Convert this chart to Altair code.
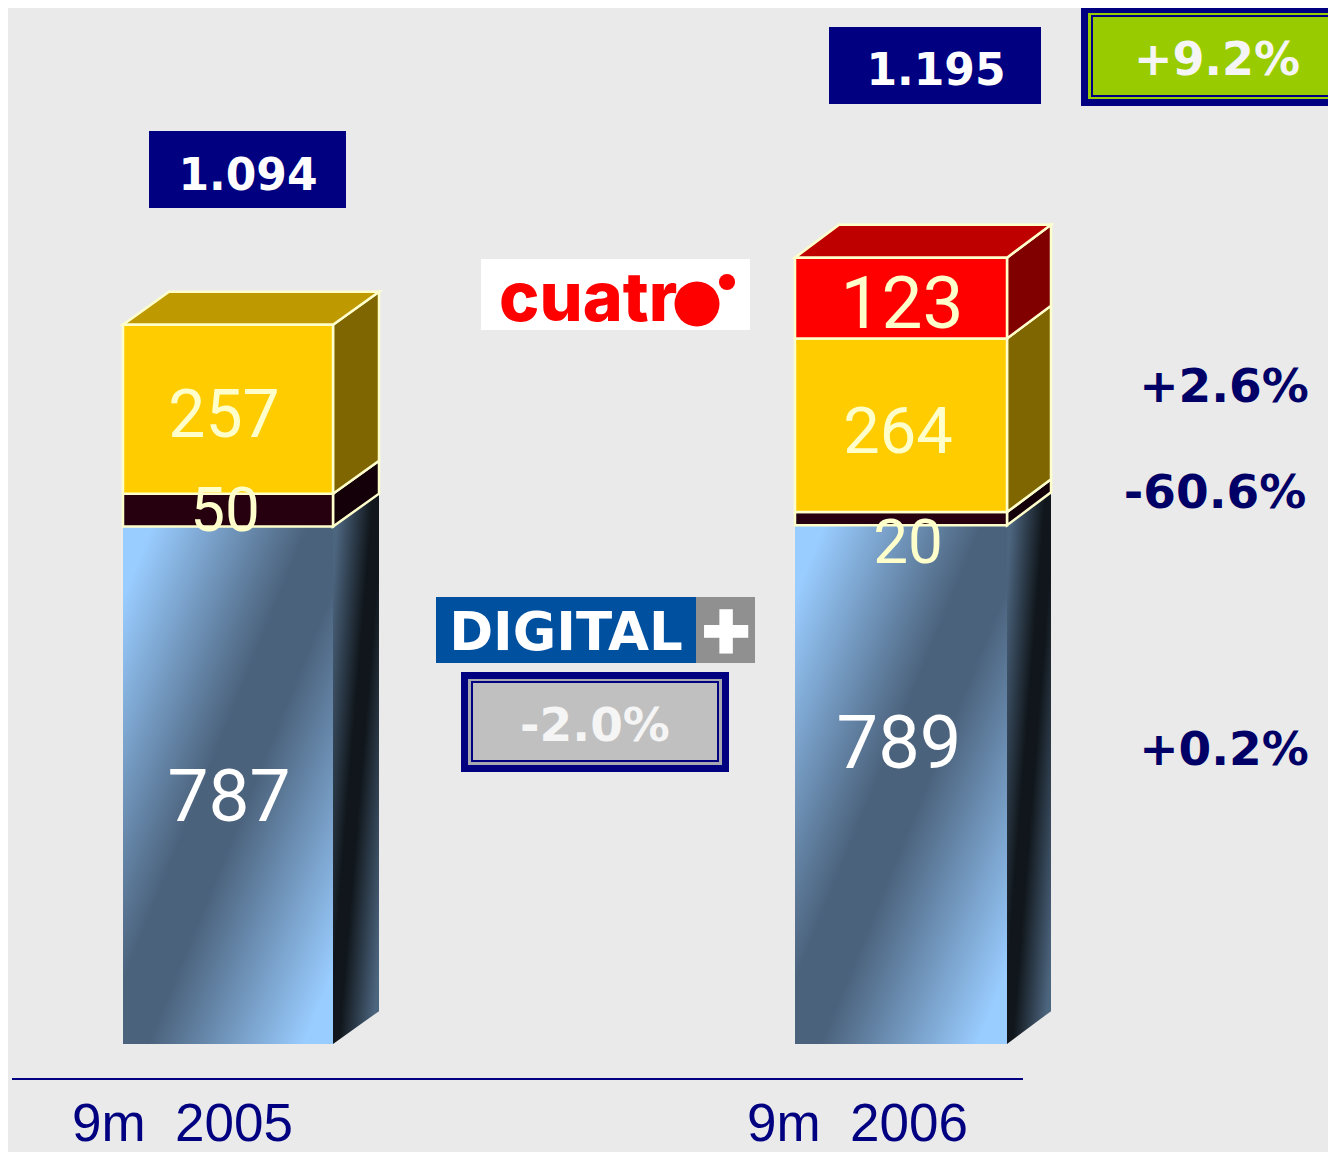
import altair as alt
import pandas as pd

# ---- values ----
periods = ["9m 2005", "9m 2006"]
digital = [787, 789]
other = [50, 20]
gold = [257, 264]
cuatro = [0, 123]
totals = ["1.094", "1.195"]
changes = ["+2.6%", "-60.6%", "+0.2%"]
total_change = "+9.2%"
digital_change = "-2.0%"

PX = 0.6575
BASE = 1044
W, H = 1320, 1144
def py(p):
    return (BASE - p) / PX

xs = alt.Scale(domain=[8, 8 + W], range=[0, W], nice=False, zero=False)
ys = alt.Scale(domain=[py(8 + H), py(8)], range=[H, 0], nice=False, zero=False)
X = lambda f="x": alt.X(f"{f}:Q", scale=xs, axis=None)
Y = lambda f="y": alt.Y(f"{f}:Q", scale=ys, axis=None)

OUT = "#FFFFCC"
NAVY = "#000080"
bars = [(123, 333, 46), (795, 1007, 44)]
DY = 50

def grad(a, b):
    return alt.Gradient(gradient="linear", x1=0, y1=0, x2=1, y2=1,
                        stops=[alt.GradientStop(offset=0.07, color=a),
                               alt.GradientStop(offset=0.44, color=b),
                               alt.GradientStop(offset=0.56, color=b),
                               alt.GradientStop(offset=0.93, color=a)])

fronts, polys = [], []
pal = [("other", "#26000F", "#130008", None),
       ("gold", "#FFCC00", "#806600", "#BF9900"),
       ("cuatro", "#FF0000", "#800000", "#BF0000")]
series = {"other": other, "gold": gold, "cuatro": cuatro}
for i, (x0, x1, dx) in enumerate(bars):
    y = digital[i]
    top = y
    for name, f, s, t in pal:
        v = series[name][i]
        if v == 0:
            continue
        fronts.append(dict(x=x0, x2=x1, y=y, y2=y + v, fill=f))
        pid = f"{i}{name}"
        polys += [dict(id=pid, x=x1, y=y + v, y2=y, fill=s),
                  dict(id=pid, x=x1 + dx, y=y + v + DY, y2=y + DY, fill=s)]
        y += v
        top = y
    tname = [p for p in pal if series[p[0]][i] > 0][-1]
    pid = f"{i}top"
    tf = tname[3]
    polys += [dict(id=pid, x=x0, y=top, y2=top, fill=tf),
              dict(id=pid, x=x0 + dx, y=top + DY, y2=top, fill=tf),
              dict(id=pid, x=x1, y=top + DY, y2=top, fill=tf),
              dict(id=pid, x=x1 + dx, y=top + DY, y2=top + DY, fill=tf)]

layers = []
# blue digital segments
for i, (x0, x1, dx) in enumerate(bars):
    side = pd.DataFrame([dict(x=x1, y=digital[i], y2=0),
                         dict(x=x1 + dx, y=digital[i] + DY, y2=DY)])
    layers.append(alt.Chart(side).mark_area(orient="vertical", color=grad("#4D6680", "#10161B")).encode(
        x=X(), y=Y(), y2="y2:Q"))
    front = pd.DataFrame([dict(x=x0, x2=x1, y=digital[i], y2=0)])
    layers.append(alt.Chart(front).mark_rect(color=grad("#99CCFF", "#4B627C")).encode(
        x=X(), x2="x2:Q", y=Y(), y2="y2:Q"))

# solid faces
layers.append(alt.Chart(pd.DataFrame(polys)).mark_area(orient="vertical", stroke=OUT, strokeWidth=2.5).encode(
    x=X(), y=Y(), y2="y2:Q", detail="id:N", fill=alt.Fill("fill:N", scale=None)))
layers.append(alt.Chart(pd.DataFrame(fronts)).mark_rect(stroke=OUT, strokeWidth=2.5).encode(
    x=X(), x2="x2:Q", y=Y(), y2="y2:Q", fill=alt.Fill("fill:N", scale=None)))

# baseline
layers.append(alt.Chart(pd.DataFrame([dict(x=12, x2=1023, y=py(1079))])).mark_rule(color=NAVY, strokeWidth=2).encode(
    x=X(), x2="x2:Q", y=Y()))

# boxes
def box(rows):
    d = pd.DataFrame([dict(x=a, x2=b, y=py(c), y2=py(e), fill=f) for a, b, c, e, f in rows])
    return alt.Chart(d).mark_rect().encode(x=X(), x2="x2:Q", y=Y(), y2="y2:Q",
                                           fill=alt.Fill("fill:N", scale=None))
GREEN, GREY = "#99CC00", "#C0C0C0"
RIGHT = 8 + W
for rows in [
    [(149, 346, 131, 208, NAVY)],
    [(829, 1041, 27, 104, NAVY)],
    [(1081, RIGHT, 6, 106, NAVY)], [(1088, RIGHT, 13, 99, GREEN)], [(1091, RIGHT, 15, 97, NAVY)], [(1093, RIGHT, 17, 95, GREEN)],
    [(461, 729, 672, 772, NAVY)], [(468, 722, 679, 765, "#A8A8B0")], [(471, 719, 681, 762, NAVY)], [(473, 717, 683, 760, GREY)],
    [(481, 750, 259, 330, "#FFFFFF")],
    [(436, 696, 597, 663, "#0050A0")], [(696, 755, 597, 663, "#909090")],
]:
    layers.append(box(rows))

# cuatro dots
dots = pd.DataFrame([dict(x=697, y=py(304), s=2025), dict(x=727, y=py(282), s=260)])
layers.append(alt.Chart(dots).mark_point(filled=True, shape="circle", color="#FF0000", opacity=1).encode(
    x=X(), y=Y(), size=alt.Size("s:Q", scale=None)))

def txt(label, x, base, size, color, font, weight=400, align="center"):
    d = pd.DataFrame([dict(x=x, y=py(base), t=label)])
    return alt.Chart(d).mark_text(fontSize=size, color=color, font=font, fontWeight=weight,
                                  align=align, baseline="alphabetic").encode(x=X(), y=Y(), text="t:N")

R = "Roboto"
D = "DejaVu Sans"
layers += [
    txt(str(digital[0]), 229, 821, 73, "#FFFFFF", R, 400),
    txt(str(digital[1]), 899, 768, 74, "#FFFFFF", R, 400),
    txt(str(other[0]), 225, 531, 62, OUT, R, 400),
    txt(str(other[1]), 908, 563, 62, OUT, R, 400),
    txt(str(gold[0]), 224, 437, 66, OUT, R, 400),
    txt(str(gold[1]), 898, 453, 65, OUT, R, 400),
    txt(str(cuatro[1]), 902, 328, 73, OUT, R, 400),
    txt(totals[0], 248, 190, 44, "#FFFFFF", D, 700),
    txt(totals[1], 936, 85, 44, "#FFFFFF", D, 700),
    txt(total_change, 1217, 75, 46, "#F5F5F5", D, 700),
    txt(digital_change, 595, 741, 47, "#F5F5F5", D, 700),
    txt(changes[0], 1224, 402, 47, "#000066", D, 700),
    txt(changes[1], 1215, 508, 47, "#000066", D, 700),
    txt(changes[2], 1224, 765, 47, "#000066", D, 700),
    txt(periods[0].replace(" ", "\u00a0\u00a0"), 72, 1141, 53, NAVY, "Liberation Sans", 400, "left"),
    txt(periods[1].replace(" ", "\u00a0\u00a0"), 747, 1141, 53, NAVY, "Liberation Sans", 400, "left"),
    txt("cuatr", 499, 321, 68, "#FF0000", "Inter", 800, "left"),
    txt("DIGITAL", 566, 650, 53, "#FFFFFF", D, 700),
    txt("+", 726, 656, 84, "#FFFFFF", "Inter", 900),
]

chart = alt.layer(*layers).properties(
    width=W, height=H, background="#EAEAEA", padding=0,
    autosize=alt.AutoSizeParams(type="none", contains="padding"),
).configure_view(strokeWidth=0)

chart.save("out.html", embed_options={"renderer": "svg", "actions": False})
